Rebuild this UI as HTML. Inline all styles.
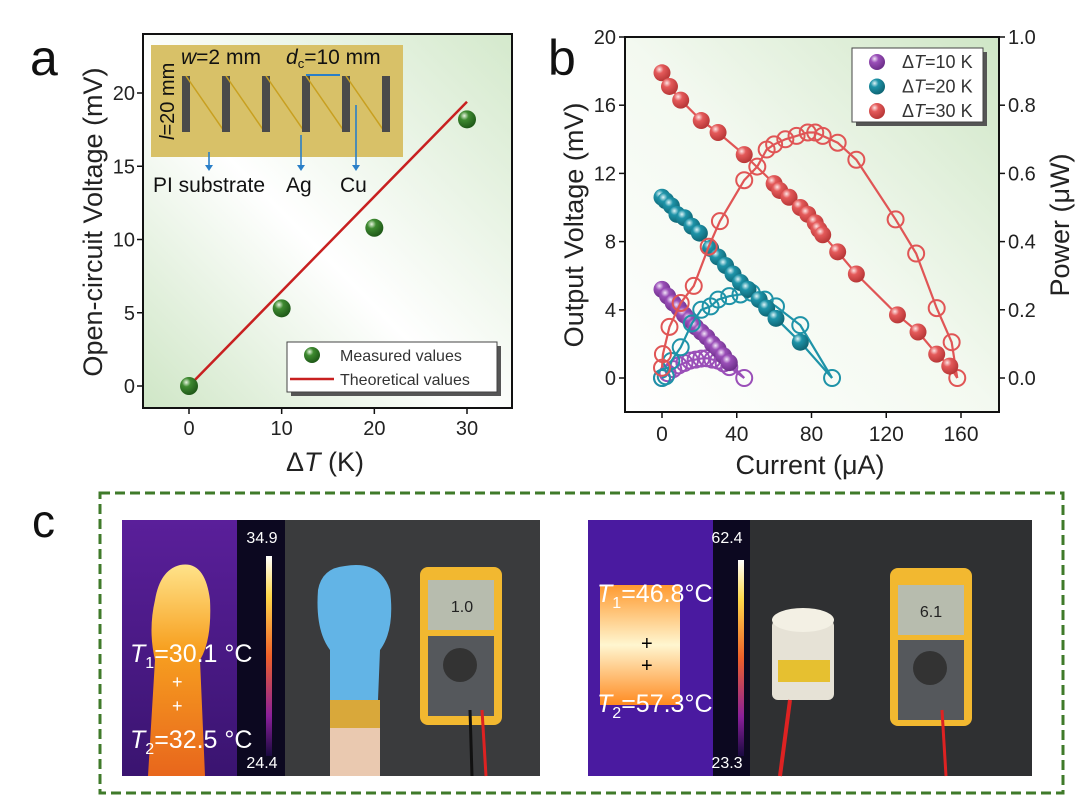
<!DOCTYPE html>
<html><head><meta charset="utf-8"><style>
body{margin:0;background:#fff;}
svg{display:block;font-family:"Liberation Sans",Arial,sans-serif;}
</style></head><body>
<svg id="fig" width="1080" height="797" viewBox="0 0 1080 797" xmlns="http://www.w3.org/2000/svg">
<defs>
<linearGradient id="bgA" x1="0" y1="1" x2="1" y2="0"><stop offset="0" stop-color="#cfe6c6"/><stop offset="0.45" stop-color="#ffffff"/><stop offset="1" stop-color="#d4e9cc"/></linearGradient>
<linearGradient id="bgB" x1="0" y1="1" x2="1" y2="0"><stop offset="0" stop-color="#ffffff"/><stop offset="0.5" stop-color="#f3f9f0"/><stop offset="1" stop-color="#cfe6c6"/></linearGradient>
<radialGradient id="ballG" cx="0.35" cy="0.3" r="0.7"><stop offset="0" stop-color="#e8f5e0"/><stop offset="0.35" stop-color="#3e8a30"/><stop offset="1" stop-color="#1f5a18"/></radialGradient>
<radialGradient id="ballP" cx="0.35" cy="0.3" r="0.7"><stop offset="0" stop-color="#f2e6f8"/><stop offset="0.35" stop-color="#9a4fb8"/><stop offset="1" stop-color="#6d2f8a"/></radialGradient>
<radialGradient id="ballT" cx="0.35" cy="0.3" r="0.7"><stop offset="0" stop-color="#dff4f7"/><stop offset="0.35" stop-color="#1e93a8"/><stop offset="1" stop-color="#0f6675"/></radialGradient>
<radialGradient id="ballR" cx="0.35" cy="0.3" r="0.7"><stop offset="0" stop-color="#fde6e6"/><stop offset="0.35" stop-color="#e45a5a"/><stop offset="1" stop-color="#b83737"/></radialGradient>
<linearGradient id="therm1" x1="0" y1="0" x2="0" y2="1"><stop offset="0" stop-color="#5a1f9a"/><stop offset="1" stop-color="#3a1470"/></linearGradient>
<linearGradient id="scale" x1="0" y1="0" x2="0" y2="1"><stop offset="0" stop-color="#ffffff"/><stop offset="0.2" stop-color="#ffd84a"/><stop offset="0.5" stop-color="#f0602a"/><stop offset="0.8" stop-color="#8a1f9a"/><stop offset="1" stop-color="#1a0a40"/></linearGradient>
<linearGradient id="arm" x1="0" y1="0" x2="0" y2="1"><stop offset="0" stop-color="#ffe38a"/><stop offset="0.4" stop-color="#f7a020"/><stop offset="1" stop-color="#e8661c"/></linearGradient>
<linearGradient id="hot" x1="0" y1="0" x2="0" y2="1"><stop offset="0" stop-color="#ff9a30"/><stop offset="0.5" stop-color="#fff6d0"/><stop offset="1" stop-color="#ff8a20"/></linearGradient>
</defs>
<g id="panelA"></g>
<g id="panelB"></g>
<g id="panelC">
  <text x="32" y="537" font-size="46" fill="#111">c</text>
  <rect x="100" y="493" width="963" height="300" fill="none" stroke="#3f7a2a" stroke-width="3" stroke-dasharray="10,5"/>
  <g>
    <rect x="122" y="520" width="163" height="256" fill="url(#therm1)"/>
    <path d="M155 600 Q160 570 180 565 Q205 560 210 600 Q212 640 200 660 L205 776 L148 776 L155 660 Q148 630 155 600Z" fill="url(#arm)"/>
    <rect x="237" y="520" width="48" height="256" fill="#0c0820"/>
    <rect x="266" y="556" width="6" height="200" fill="url(#scale)"/>
    <text x="262" y="543" font-size="16" fill="#fff" text-anchor="middle">34.9</text>
    <text x="262" y="768" font-size="16" fill="#fff" text-anchor="middle">24.4</text>
    <text x="130" y="662" font-size="25" fill="#fff"><tspan font-style="italic">T</tspan><tspan font-size="16" dy="6">1</tspan><tspan dy="-6">=30.1 °C</tspan></text>
    <text x="130" y="748" font-size="25" fill="#fff"><tspan font-style="italic">T</tspan><tspan font-size="16" dy="6">2</tspan><tspan dy="-6">=32.5 °C</tspan></text>
    <text x="172" y="688" font-size="18" fill="#fff">+</text>
    <text x="172" y="712" font-size="18" fill="#fff">+</text>
  </g>
  <g>
    <rect x="285" y="520" width="255" height="256" fill="#3a3b3d"/>
    <path d="M318 590 Q322 568 345 566 Q380 560 390 590 Q395 630 380 650 L378 700 L330 700 L330 650 Q315 630 318 590Z" fill="#62b4e6"/>
    <rect x="330" y="700" width="50" height="28" fill="#d9a83a"/>
    <rect x="330" y="728" width="50" height="48" fill="#eac9b0"/>
    <rect x="420" y="567" width="82" height="158" rx="8" fill="#f2b830"/>
    <rect x="428" y="580" width="66" height="50" fill="#b7bcae"/>
    <text x="462" y="612" font-size="16" fill="#222" text-anchor="middle">1.0</text>
    <rect x="428" y="636" width="66" height="80" fill="#55585c"/>
    <circle cx="460" cy="665" r="17" fill="#333"/>
    <path d="M482 710 L486 776" stroke="#d22" stroke-width="3"/>
    <path d="M470 710 L472 776" stroke="#111" stroke-width="3"/>
  </g>
  <g>
    <rect x="588" y="520" width="162" height="256" fill="#4a1aa0"/>
    <rect x="600" y="585" width="80" height="120" fill="url(#hot)"/>
    <rect x="713" y="520" width="37" height="256" fill="#0c0820"/>
    <rect x="738" y="560" width="6" height="196" fill="url(#scale)"/>
    <text x="727" y="543" font-size="16" fill="#fff" text-anchor="middle">62.4</text>
    <text x="727" y="768" font-size="16" fill="#fff" text-anchor="middle">23.3</text>
    <text x="597" y="602" font-size="25" fill="#fff"><tspan font-style="italic">T</tspan><tspan font-size="16" dy="6">1</tspan><tspan dy="-6">=46.8°C</tspan></text>
    <text x="597" y="712" font-size="25" fill="#fff"><tspan font-style="italic">T</tspan><tspan font-size="16" dy="6">2</tspan><tspan dy="-6">=57.3°C</tspan></text>
    <text x="641" y="650" font-size="20" fill="#000">+</text>
    <text x="641" y="672" font-size="20" fill="#000">+</text>
  </g>
  <g>
    <rect x="750" y="520" width="282" height="256" fill="#2f3032"/>
    <rect x="772" y="620" width="62" height="80" rx="6" fill="#e6e2d6"/>
    <ellipse cx="803" cy="620" rx="31" ry="12" fill="#f3f0e4"/>
    <rect x="778" y="660" width="52" height="22" fill="#e6c030"/>
    <rect x="890" y="568" width="82" height="158" rx="8" fill="#f2b830"/>
    <rect x="898" y="585" width="66" height="50" fill="#b7bcae"/>
    <text x="931" y="617" font-size="16" fill="#222" text-anchor="middle">6.1</text>
    <rect x="898" y="640" width="66" height="80" fill="#55585c"/>
    <circle cx="930" cy="668" r="17" fill="#333"/>
    <path d="M942 710 L946 776" stroke="#d22" stroke-width="3"/>
    <path d="M790 700 L780 776" stroke="#d22" stroke-width="4"/>
  </g>
</g>
</svg>
<script>
// ---------- Panel a data ----------
const aDeltaT = [0, 10, 20, 30];
const aMeasured = [0, 5.3, 10.8, 18.2];
const aTheoryX = [0, 30];
const aTheoryY = [0, 19.4];
const aXTicks = [0, 10, 20, 30];
const aYTicks = [0, 5, 10, 15, 20];

// ---------- Panel b data ----------
const b10I = [0, 3, 6, 9, 12, 15, 18, 21, 24, 27, 30, 33, 36];
const b10V = [5.2, 4.8, 4.4, 4.1, 3.7, 3.4, 3.0, 2.7, 2.4, 2.0, 1.7, 1.3, 0.9];
const b10PI = [0, 3, 6, 9, 12, 15, 18, 21, 24, 27, 30, 33, 36, 44];
const b10P = [0, 0.014, 0.026, 0.037, 0.044, 0.051, 0.054, 0.057, 0.058, 0.054, 0.051, 0.043, 0.032, 0];
const b20I = [0, 2, 5, 8, 12, 16, 20, 26, 30, 34, 38, 42, 46, 52, 56, 61, 74];
const b20V = [10.6, 10.4, 10.1, 9.6, 9.4, 8.9, 8.5, 7.6, 7.1, 6.6, 6.1, 5.6, 5.2, 4.6, 4.1, 3.5, 2.1];
const b20PI = [0, 2, 5, 10, 16, 21, 26, 30, 36, 42, 48, 55, 61, 74, 91];
const b20P = [0, 0.005, 0.05, 0.09, 0.16, 0.2, 0.21, 0.23, 0.24, 0.245, 0.25, 0.23, 0.21, 0.155, 0];
const b30I = [0, 4, 10, 21, 30, 44, 60, 63, 68, 74, 78, 82, 84, 86, 94, 104, 126, 137, 147, 154];
const b30V = [17.9, 17.1, 16.3, 15.1, 14.4, 13.1, 11.4, 11.0, 10.6, 10.0, 9.6, 9.1, 8.7, 8.4, 7.4, 6.1, 3.7, 2.7, 1.4, 0.7];
const b30PI = [0, 0.5, 4, 10, 17, 25, 31, 44, 51, 56, 60, 66, 72, 78, 82, 86, 94, 104, 125, 136, 147, 155, 158];
const b30P = [0.03, 0.07, 0.15, 0.22, 0.27, 0.385, 0.46, 0.58, 0.62, 0.67, 0.685, 0.7, 0.71, 0.72, 0.72, 0.71, 0.69, 0.64, 0.465, 0.365, 0.205, 0.105, 0];
const bXTicks = [0, 40, 80, 120, 160];
const bYTicks = [0, 4, 8, 12, 16, 20];
const bPTicks = [0.0, 0.2, 0.4, 0.6, 0.8, 1.0];

const NS = "http://www.w3.org/2000/svg";
function mk(parent, tag, attrs, text) {
  const e = document.createElementNS(NS, tag);
  for (const k in attrs) e.setAttribute(k, attrs[k]);
  if (text !== undefined) e.textContent = text;
  parent.appendChild(e);
  return e;
}

// ===== Panel A =====
(function () {
  const g = document.getElementById('panelA');
  const X0 = 143, X1 = 512, Y0 = 34, Y1 = 408;
  const xs = v => 189 + (v - 0) * (467 - 189) / 30;
  const ys = v => 386 - v * (386 - 93) / 20;
  let el = mk(g, 'text', {x: 30, y: 75, 'font-size': 50, fill: '#111'}, 'a');
  
  
  el = mk(g, 'rect', {x: X0, y: Y0, width: X1 - X0, height: Y1 - Y0, fill: 'url(#bgA)'});
  
  
  const ins = mk(g, 'g', {});
  
  
  mk(ins, 'rect', {x: 151, y: 45, width: 252, height: 112, fill: '#d8c168'});
  const bx = [186, 226, 266, 306, 346, 386];
  for (let i = 0; i < bx.length; i++) {
    mk(ins, 'rect', {x: bx[i] - 4, y: 76, width: 8, height: 56, fill: '#4a4a4a'});
    if (i < bx.length - 1) mk(ins, 'line', {x1: bx[i], y1: 76, x2: bx[i] + 40 - 2, y2: 131, stroke: '#c8a020', 'stroke-width': 1.5});
  }
  mk(ins, 'line', {x1: 306, y1: 75, x2: 340, y2: 75, stroke: '#2a7fc8', 'stroke-width': 2});
  mk(ins, 'text', {x: 181, y: 64, 'font-size': 21, fill: '#111'}, '').innerHTML = '<tspan font-style="italic">w</tspan>=2 mm';
  mk(ins, 'text', {x: 286, y: 64, 'font-size': 21, fill: '#111'}, '').innerHTML = '<tspan font-style="italic">d</tspan><tspan font-size="13" dy="4">c</tspan><tspan dy="-4">=10 mm</tspan>';
  mk(ins, 'text', {x: 0, y: 0, 'font-size': 20, fill: '#111', transform: 'translate(174,140) rotate(-90)'}, '').innerHTML = '<tspan font-style="italic">l</tspan>=20 mm';
  [[209, 152, 168], [301, 135, 168], [356, 105, 168]].forEach(a => {
    mk(ins, 'line', {x1: a[0], y1: a[1], x2: a[0], y2: a[2], stroke: '#2a7fc8', 'stroke-width': 1.6});
    mk(ins, 'path', {d: `M${a[0]-4} ${a[2]-3} L${a[0]+4} ${a[2]-3} L${a[0]} ${a[2]+3}Z`, fill: '#2a7fc8'});
  });
  mk(ins, 'text', {x: 153, y: 192, 'font-size': 21, fill: '#111'}, 'PI substrate');
  mk(ins, 'text', {x: 286, y: 192, 'font-size': 21, fill: '#111'}, 'Ag');
  mk(ins, 'text', {x: 340, y: 192, 'font-size': 21, fill: '#111'}, 'Cu');
  el = mk(g, 'rect', {x: X0, y: Y0, width: X1 - X0, height: Y1 - Y0, fill: 'none', stroke: '#111', 'stroke-width': 2});
  
  
  aXTicks.forEach(t => {
    mk(g, 'line', {x1: xs(t), y1: Y1, x2: xs(t), y2: Y1 + 6, stroke: '#111', 'stroke-width': 1.5});
    const tx = mk(g, 'text', {x: xs(t), y: Y1 + 27, 'font-size': 20, fill: '#222', 'text-anchor': 'middle'}, String(t));
    
    
  });
  aYTicks.forEach(t => {
    mk(g, 'line', {x1: X0, y1: ys(t), x2: X0 - 6, y2: ys(t), stroke: '#111', 'stroke-width': 1.5});
    const tx = mk(g, 'text', {x: X0 - 8, y: ys(t) + 7, 'font-size': 20, fill: '#222', 'text-anchor': 'end'}, String(t));
    
    
  });
  el = mk(g, 'text', {x: 325, y: 471, 'font-size': 27, fill: '#222', 'text-anchor': 'middle'}, '');
  el.innerHTML = 'Δ<tspan font-style="italic">T</tspan> (K)';
  
  
  el = mk(g, 'text', {x: 0, y: 0, 'font-size': 27, fill: '#222', 'text-anchor': 'middle', transform: 'translate(102,222) rotate(-90)'}, 'Open-circuit Voltage (mV)');
  
  
  el = mk(g, 'line', {x1: xs(aTheoryX[0]), y1: ys(aTheoryY[0]), x2: xs(aTheoryX[1]), y2: ys(aTheoryY[1]), stroke: '#c82020', 'stroke-width': 2.5});
  
  
  aDeltaT.forEach((d, i) => {
    const c = mk(g, 'circle', {cx: xs(d), cy: ys(aMeasured[i]), r: 9, fill: 'url(#ballG)'});
    
    
  });
  const lg = mk(g, 'g', {});
  
  
  mk(lg, 'rect', {x: 291, y: 346, width: 210, height: 50, fill: '#555'});
  mk(lg, 'rect', {x: 287, y: 342, width: 210, height: 50, fill: '#fff', stroke: '#444', 'stroke-width': 1});
  mk(lg, 'circle', {cx: 312, cy: 355, r: 8, fill: 'url(#ballG)'});
  mk(lg, 'text', {x: 340, y: 361, 'font-size': 16, fill: '#333'}, 'Measured values');
  mk(lg, 'line', {x1: 290, y1: 379, x2: 334, y2: 379, stroke: '#c82020', 'stroke-width': 2.5});
  mk(lg, 'text', {x: 340, y: 385, 'font-size': 16, fill: '#333'}, 'Theoretical values');
})();

// ===== Panel B =====
(function () {
  const g = document.getElementById('panelB');
  const X0 = 625, X1 = 999, Y0 = 37, Y1 = 412;
  const xs = v => 662 + v * (961 - 662) / 160;
  const ys = v => 378 - v * (378 - 37) / 20;
  const ps = v => 378 - v * (378 - 37) / 1.0;
  let el = mk(g, 'text', {x: 548, y: 75, 'font-size': 50, fill: '#111'}, 'b');
  
  
  el = mk(g, 'rect', {x: X0, y: Y0, width: X1 - X0, height: Y1 - Y0, fill: 'url(#bgB)'});
  
  
  el = mk(g, 'rect', {x: X0, y: Y0, width: X1 - X0, height: Y1 - Y0, fill: 'none', stroke: '#111', 'stroke-width': 2});
  
  
  bXTicks.forEach(t => {
    mk(g, 'line', {x1: xs(t), y1: Y1, x2: xs(t), y2: Y1 + 6, stroke: '#111', 'stroke-width': 1.5});
    const tx = mk(g, 'text', {x: xs(t), y: Y1 + 29, 'font-size': 21, fill: '#222', 'text-anchor': 'middle'}, String(t));
    
    
  });
  bYTicks.forEach(t => {
    mk(g, 'line', {x1: X0, y1: ys(t), x2: X0 - 6, y2: ys(t), stroke: '#111', 'stroke-width': 1.5});
    const tx = mk(g, 'text', {x: X0 - 9, y: ys(t) + 7, 'font-size': 20, fill: '#222', 'text-anchor': 'end'}, String(t));
    
    
  });
  bPTicks.forEach(t => {
    mk(g, 'line', {x1: X1, y1: ps(t), x2: X1 + 6, y2: ps(t), stroke: '#111', 'stroke-width': 1.5});
    const tx = mk(g, 'text', {x: X1 + 9, y: ps(t) + 7, 'font-size': 20, fill: '#222'}, t.toFixed(1));
    
    
  });
  el = mk(g, 'text', {x: 810, y: 474, 'font-size': 27, fill: '#222', 'text-anchor': 'middle'}, 'Current (μA)');
  
  
  el = mk(g, 'text', {x: 0, y: 0, 'font-size': 27, fill: '#222', 'text-anchor': 'middle', transform: 'translate(583,225) rotate(-90)'}, 'Output Voltage (mV)');
  
  
  el = mk(g, 'text', {x: 0, y: 0, 'font-size': 27, fill: '#222', 'text-anchor': 'middle', transform: 'translate(1069,225) rotate(-90)'}, 'Power (μW)');
  
  

  const series = [
    {I: b10I, V: b10V, PI: b10PI, P: b10P, col: '#9a4fb8', grad: 'url(#ballP)', name: '10k'},
    {I: b20I, V: b20V, PI: b20PI, P: b20P, col: '#1e93a8', grad: 'url(#ballT)', name: '20k'},
    {I: b30I, V: b30V, PI: b30PI, P: b30P, col: '#e05555', grad: 'url(#ballR)', name: '30k'}
  ];
  series.forEach(s => {
    const vpts = s.I.map((x, i) => xs(x) + ',' + ys(s.V[i]));
    vpts.push(xs(s.PI[s.PI.length - 1]) + ',' + ys(0));
    let l = mk(g, 'polyline', {points: vpts.join(' '), fill: 'none', stroke: s.col, 'stroke-width': 2.2});
    
    
    const ppts = s.PI.map((x, i) => xs(x) + ',' + ps(s.P[i]));
    l = mk(g, 'polyline', {points: ppts.join(' '), fill: 'none', stroke: s.col, 'stroke-width': 2.2});
    
    
    s.PI.forEach((x, i) => {
      const c = mk(g, 'circle', {cx: xs(x), cy: ps(s.P[i]), r: 8, fill: 'none', stroke: s.col, 'stroke-width': 2});
      
      
    });
    s.I.forEach((x, i) => {
      const c = mk(g, 'circle', {cx: xs(x), cy: ys(s.V[i]), r: 8.5, fill: s.grad});
      
      
    });
  });
  const lg = mk(g, 'g', {});
  
  
  mk(lg, 'rect', {x: 856, y: 52, width: 131, height: 74, fill: '#555'});
  mk(lg, 'rect', {x: 852, y: 48, width: 131, height: 74, fill: '#fff', stroke: '#444', 'stroke-width': 1});
  const labs = ['10', '20', '30'];
  series.forEach((s, i) => {
    const y = 62 + i * 24.5;
    mk(lg, 'circle', {cx: 877, cy: y, r: 8, fill: s.grad});
    const t = mk(lg, 'text', {x: 902, y: y + 6, 'font-size': 18, fill: '#333'}, '');
    t.innerHTML = 'Δ<tspan font-style="italic">T</tspan>=' + labs[i] + ' K';
  });
})();
</script>
</body></html>
